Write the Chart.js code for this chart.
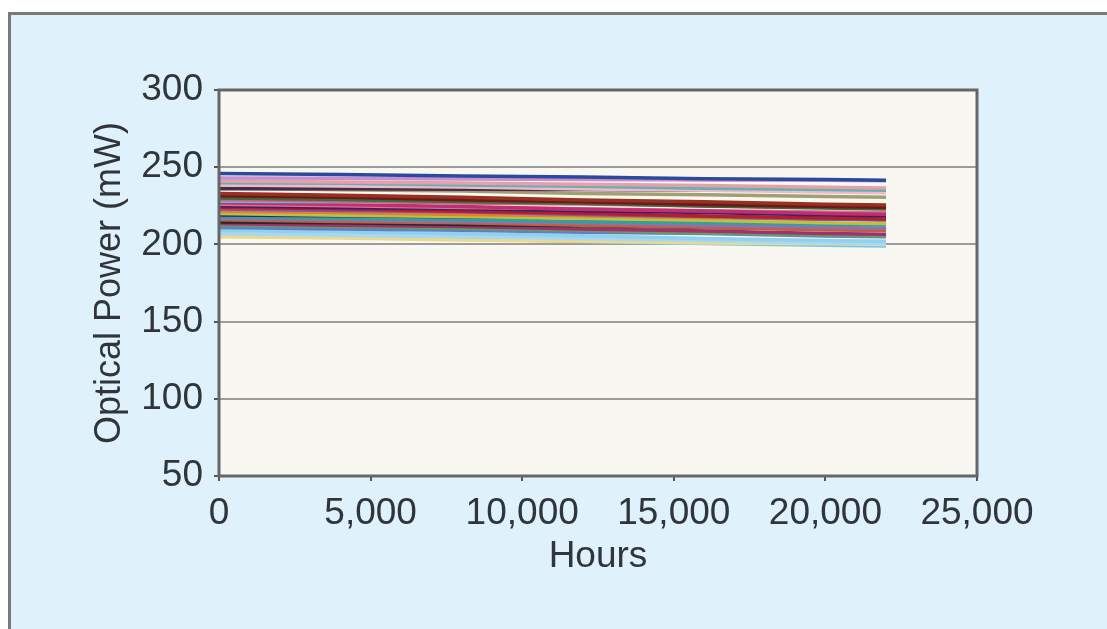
<!DOCTYPE html>
<html>
<head>
<meta charset="utf-8">
<script src="https://cdn.jsdelivr.net/npm/chart.js@4.4.1/dist/chart.umd.min.js"></script>
<style>
  html, body { margin: 0; padding: 0; background: #ffffff; overflow: hidden; }
  #frame {
    position: absolute; left: 8px; top: 12px; width: 1200px; height: 700px;
    border-left: 3px solid #7a7a7a; border-top: 3px solid #7a7a7a;
    background: #dff1fb;
  }
  #myChart { position: absolute; left: 0; top: 0; }
</style>
</head>
<body>
<div id="frame"><canvas id="myChart" width="1096" height="614"></canvas></div>
<script>
var hours = [0, 4000, 8000, 12000, 16000, 20000, 22000];
var xTicks = [0, 5000, 10000, 15000, 20000, 25000];
var yTicks = [50, 100, 150, 200, 250, 300];

var laserColors = [
    "#2b4a9c", "#c58fd0", "#e8a0a8", "#5fb3b3", "#f0b8c8", "#4b2a4a", "#a0a070", "#9a3020",
    "#6a1a1a", "#3f6a3a", "#d06080", "#70b0e0", "#c03070", "#e07090", "#402060", "#b02030",
    "#8a50a8", "#e08030", "#c0c040", "#20306a", "#30a0a0", "#9070b0", "#c06040", "#2a2a2a",
    "#a03070", "#60a060", "#6080c0", "#90d0f0", "#a8d8f0", "#e8d890", "#70c8e8"
];

// optical power (mW) of each laser at the hours above
var laserPower = [
    [246, 245.2, 244.3, 243.6, 242.6, 242, 241.6],
    [243, 242.9, 242.4, 242.1, 241.7, 241.5, 241.3],
    [241, 240.4, 239.8, 239, 238.1, 237, 236.5],
    [240, 239.6, 238.4, 237.6, 236.4, 235.6, 235],
    [238.5, 237.8, 237.1, 235.9, 235.1, 234, 233.5],
    [236, 236.1, 235.7, 235.6, 235.1, 235, 234.8],
    [236.5, 235.4, 234.6, 232.9, 232.1, 231, 230.5],
    [233, 231.9, 230.6, 228.8, 227.6, 226, 225.5],
    [231.5, 230.6, 228.9, 227.6, 225.9, 224.6, 224],
    [230, 229.1, 227.8, 226.6, 224.8, 223.6, 223],
    [229, 228.1, 226.8, 226.1, 224.9, 224, 223.5],
    [228, 227.6, 226.9, 226.6, 225.9, 225.5, 225],
    [227, 225.8, 224.6, 222.8, 221.6, 220, 219.5],
    [226, 225.1, 223.9, 223.1, 221.8, 221, 220.5],
    [225, 223.9, 223.1, 221.8, 220.6, 219, 218.5],
    [224, 223.1, 221.4, 220.1, 218.4, 217.1, 216.5],
    [223, 221.9, 221.1, 219.4, 218.1, 216.4, 216],
    [221.5, 220.6, 219.4, 218.6, 217.4, 216.6, 216],
    [220, 218.9, 218.1, 216.9, 215.6, 214, 213.5],
    [219, 218.6, 217.9, 217.6, 216.9, 216.5, 216.2],
    [218, 216.9, 216.1, 214.9, 214.1, 213, 212.5],
    [217, 216.1, 214.9, 214.1, 212.4, 211.1, 210.5],
    [216, 214.9, 214.1, 212.4, 211.1, 209.4, 209],
    [214.5, 214.1, 212.9, 212.1, 210.9, 210, 209.5],
    [213.5, 212.4, 211.6, 209.9, 208.6, 207, 206.5],
    [212.5, 211.6, 210.4, 209.1, 207.4, 206.1, 205.5],
    [211, 209.9, 209.1, 207.9, 207.1, 205.4, 205],
    [209, 208.1, 206.9, 205.6, 203.9, 202.6, 202],
    [207, 205.9, 205.1, 203.9, 202.6, 201, 200.5],
    [205, 204.1, 202.9, 202.1, 200.9, 200.4, 200],
    [206, 204.9, 203.6, 201.9, 200.6, 199.4, 199]
];

var datasets = laserPower.map(function (values, i) {
    return {
        label: "Laser " + (i + 1),
        data: hours.map(function (h, j) { return { x: h, y: values[j] }; }),
        borderColor: laserColors[i],
        borderWidth: 3.5,
        pointRadius: 0,
        tension: 0,
        fill: false
    };
});

var textColor = "#30353a";
var fontFamily = "'Liberation Sans', Arial, sans-serif";

var plotBox = {
    id: "plotBox",
    beforeDraw: function (chart) {
        var a = chart.chartArea, ctx = chart.ctx;
        ctx.save();
        ctx.fillStyle = "#f8f7f2";
        ctx.fillRect(a.left, a.top, a.right - a.left, a.bottom - a.top);
        ctx.restore();
    },
    afterDraw: function (chart) {
        var a = chart.chartArea, ctx = chart.ctx;
        ctx.save();
        ctx.strokeStyle = "#666666";
        ctx.lineWidth = 3;
        ctx.strokeRect(a.left, a.top, a.right - a.left, a.bottom - a.top);
        ctx.restore();
    }
};

new Chart("myChart", {
    type: "line",
    data: { datasets: datasets },
    plugins: [plotBox],
    options: {
        responsive: false,
        animation: false,
        layout: {
            padding: { left: 77, top: 75, right: 130, bottom: 50 }
        },
        plugins: {
            legend: { display: false },
            tooltip: { enabled: false }
        },
        scales: {
            x: {
                type: "linear",
                min: 0,
                max: 25000,
                afterFit: function (scale) { scale.height = 103; },
                afterBuildTicks: function (scale) {
                    scale.ticks = xTicks.map(function (v) { return { value: v }; });
                },
                ticks: {
                    color: textColor,
                    font: { family: fontFamily, size: 37 },
                    padding: 11,
                    maxRotation: 0,
                    callback: function (v) { return v.toLocaleString("en-US"); }
                },
                grid: {
                    color: "transparent",
                    tickColor: "#555555",
                    tickLength: 5,
                    lineWidth: 2
                },
                border: { display: false },
                title: {
                    display: true,
                    text: "Hours",
                    color: textColor,
                    font: { family: fontFamily, size: 37 },
                    padding: 0
                }
            },
            y: {
                min: 50,
                max: 300,
                afterFit: function (scale) { scale.width = 131; },
                afterBuildTicks: function (scale) {
                    scale.ticks = yTicks.map(function (v) { return { value: v }; });
                },
                ticks: {
                    color: textColor,
                    font: { family: fontFamily, size: 37 },
                    padding: 11
                },
                grid: {
                    color: function (c) {
                        return (c.tick && (c.tick.value === 50 || c.tick.value === 300)) ? "transparent" : "#9c9c9c";
                    },
                    tickColor: "#555555",
                    tickLength: 5,
                    lineWidth: 2
                },
                border: { display: false },
                title: {
                    display: true,
                    text: "Optical Power (mW)",
                    color: textColor,
                    font: { family: fontFamily, size: 36 },
                    padding: 0
                }
            }
        }
    }
});
</script>
</body>
</html>
